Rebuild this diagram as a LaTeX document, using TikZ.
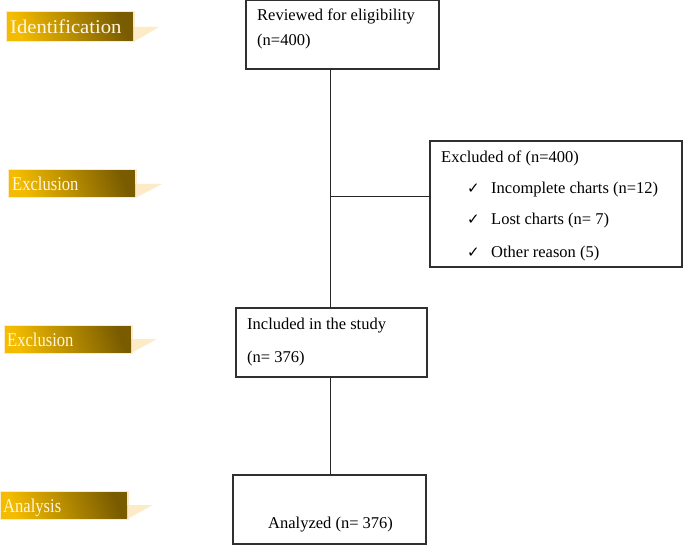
\documentclass[tikz,border=0pt]{standalone}
\usepackage{fontspec}
\setmainfont{Liberation Serif}
\newfontfamily\symfont{DejaVu Sans}
\usepackage{graphicx}
\definecolor{goldA}{HTML}{F4BC00}
\definecolor{goldB}{HTML}{7A5C00}
\definecolor{paleS}{HTML}{FCEBC6}
\definecolor{labtxt}{HTML}{FFF6E0}
\definecolor{boxline}{HTML}{303030}
\tikzset{
  flowbox/.style={draw=boxline, line width=1.3pt, fill=white},
  conn/.style={draw=black!85, line width=1pt},
  txt/.style={anchor=base west, inner sep=0pt, font=\fontsize{16.5}{19}\selectfont},
  labtext/.style={anchor=base west, inner sep=0pt, text=labtxt, font=\fontsize{19.5}{22}\selectfont},
  chk/.style={anchor=base west, inner sep=0pt, font=\symfont\fontsize{15}{17}\selectfont}
}
\newcommand{\stagelabel}[6]{% x1,y1,x2,y2,shadowright,name
  \fill[paleS] (#3,{(#2+#4)/2}) -- (#5,{(#2+#4)/2}) -- ({#3+2},#4) -- (#3,#4) -- cycle;
  \draw[paleS, line width=1pt] (#1-1,#2-1) rectangle (#3+1,#4+1);
  \shade[left color=goldA, right color=goldB, shading angle=110] (#1,#2) rectangle (#3,#4);
  \coordinate (#6) at (#1,#2);
}
\begin{document}
\begin{tikzpicture}[x=1pt,y=-1pt]
\useasboundingbox (0,0) rectangle (685,545);

% stage labels
\stagelabel{7}{13}{133}{41}{159}{labI}
\node[labtext] (tI) at (10,34) {\scalebox{1.06}[1]{Identification}};
\stagelabel{9}{171}{135}{197}{162}{labE1}
\node[labtext] (tE1) at (12,191) {\scalebox{0.85}[1]{Exclusion}};
\stagelabel{5}{326}{131}{352}{157}{labE2}
\node[labtext] (tE2) at (7,346) {\scalebox{0.85}[1]{Exclusion}};
\stagelabel{1}{492}{127}{518}{153}{labA}
\node[labtext] (tA) at (3,512) {\scalebox{0.85}[1]{Analysis}};

% boxes
\path[flowbox] (246,0.7) rectangle (439,69);
\coordinate (topB) at (330,69);
\path[flowbox] (430,141) rectangle (682,267);
\coordinate (exL) at (430,197);
\path[flowbox] (236,308) rectangle (427,377);
\coordinate (incT) at (330,308);
\coordinate (incB) at (330,377);
\path[flowbox] (233,475) rectangle (426,544);
\coordinate (anaT) at (330,475);
\coordinate (branch) at (330,197);

% connectors
\draw[conn] (topB) -- (incT);
\draw[conn] (branch) -- (exL);
\draw[conn] (incB) -- (anaT);

% texts
\node[txt] (r1) at (257,21) {Reviewed for eligibility};
\node[txt] (r2) at (257,46) {(n=400)};
\node[txt] (e0) at (441,163) {Excluded of (n=400)};
\node[chk] (c1) at (467,194) {✓};
\node[txt] (e1) at (491,194) {Incomplete charts (n=12)};
\node[chk] (c2) at (467,225) {✓};
\node[txt] (e2) at (491,225) {Lost charts (n= 7)};
\node[chk] (c3) at (467,258) {✓};
\node[txt] (e3) at (491,258) {Other reason (5)};
\node[txt] (i1) at (247,329) {Included in the study};
\node[txt] (i2) at (247,362) {(n= 376)};
\node[txt] (a1) at (268,528) {Analyzed (n= 376)};
\end{tikzpicture}
\end{document}
